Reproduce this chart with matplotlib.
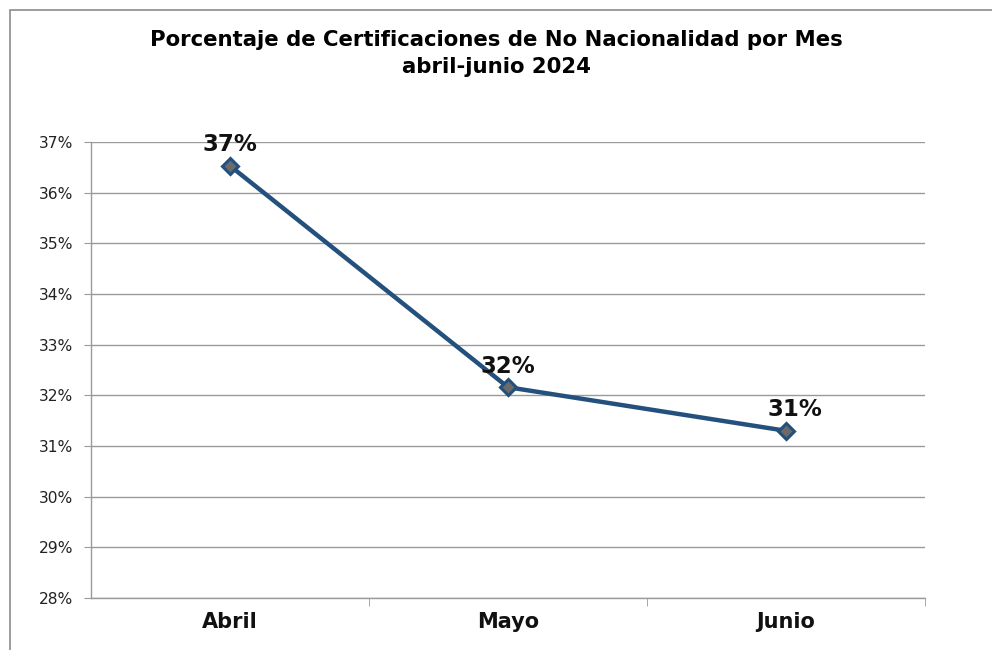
import matplotlib
matplotlib.use("Agg")
import matplotlib.pyplot as plt
import matplotlib.patches as mpatches
from matplotlib.ticker import FuncFormatter

# data
months = ["Abril", "Mayo", "Junio"]
pct = [36.53, 32.16, 31.30]
labels = ["37%", "32%", "31%"]
label_dx = [0, 0, 9]

LINE_COLOR = "#24507d"
GRID_COLOR = "#9a9a9a"

plt.rcParams["font.family"] = "DejaVu Sans"

fig = plt.figure(figsize=(9.92, 6.5), dpi=100)
ax = fig.add_axes([91 / 992, 52 / 650, 834 / 992, 456 / 650])

# outer chart border (only top/left visible in crop)
fig.patches.append(mpatches.Rectangle((10 / 992, -0.1), 1.2, 640 / 650 + 0.1,
                                      transform=fig.transFigure, fill=False,
                                      edgecolor="#8c8c8c", linewidth=1.2))

x = list(range(1, len(months) + 1))
ax.plot(x, pct, color=LINE_COLOR, linewidth=3.2, marker="D", markersize=8,
        markerfacecolor="#6b6b6b", markeredgecolor=LINE_COLOR, markeredgewidth=2.2,
        zorder=3)

for xi, yi, lab, dx in zip(x, pct, labels, label_dx):
    ax.annotate(lab, (xi, yi), textcoords="offset pixels", xytext=(dx, 21),
                ha="center", va="center", fontsize=16.5, fontweight="bold",
                color="#111111", zorder=4)

ax.set_xlim(0.5, len(months) + 0.5)
ax.set_ylim(28, 37)
ax.set_yticks(range(28, 38))
ax.yaxis.set_major_formatter(FuncFormatter(lambda v, _: f"{v:.0f}%"))
ax.yaxis.grid(True, color=GRID_COLOR, linewidth=1)
ax.set_axisbelow(True)

ax.set_xticks(x)
ax.set_xticklabels(months, fontsize=15, fontweight="bold", color="#111111")
ax.set_xticks([1.5, 2.5, 3.5], minor=True)
ax.tick_params(axis="x", which="major", length=0, pad=10)
ax.tick_params(axis="x", which="minor", length=6, color=GRID_COLOR, direction="out")
ax.tick_params(axis="y", length=5, color=GRID_COLOR, labelsize=11.2,
               labelcolor="#222222", pad=8)

for side in ["top", "right"]:
    ax.spines[side].set_visible(False)
for side in ["left", "bottom"]:
    ax.spines[side].set_color(GRID_COLOR)
    ax.spines[side].set_linewidth(1)

fig.text(0.5, 1 - 40 / 650, "Porcentaje de Certificaciones de No Nacionalidad por Mes",
         ha="center", va="center", fontsize=15.3, fontweight="bold")
fig.text(0.5, 1 - 67 / 650, "abril-junio 2024",
         ha="center", va="center", fontsize=15.3, fontweight="bold")

fig.savefig("out.png", dpi=100)
